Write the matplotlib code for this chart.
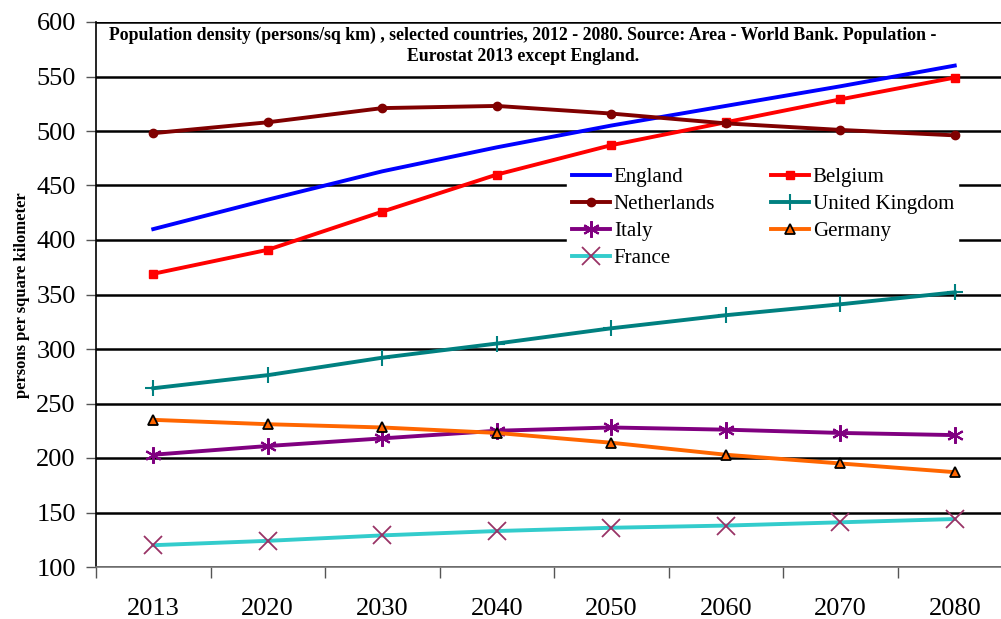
import numpy as np
import matplotlib
matplotlib.use("Agg")
import matplotlib.pyplot as plt
from matplotlib.ticker import FixedLocator, NullFormatter

years = ["2013", "2020", "2030", "2040", "2050", "2060", "2070", "2080"]
england = [410, 437, 463, 485, 505, 523, 541, 560]
belgium = [369, 391, 426, 460, 487, 508, 529, 549]
netherlands = [498, 508, 521, 523, 516, 507, 501, 496]
uk = [264, 276, 292, 305, 319, 331, 341, 352]
italy = [203, 211, 218, 225, 228, 226, 223, 221]
germany = [235, 231, 228, 223, 214, 203, 195, 187]
france = [120, 124, 129, 133, 136, 138, 141, 144]

title = ("Population density (persons/sq km) , selected countries, 2012 - 2080. Source: Area - World Bank. Population -\n"
         "Eurostat 2013 except England.")
ylabel = "persons per square kilometer"

plt.rcParams['font.family'] = ['Liberation Serif', 'DejaVu Serif']

fig = plt.figure(figsize=(10.01, 6.19), dpi=100)
ax = fig.add_axes([96/1001, 1-567/619, (1012-96)/1001, (567-22)/619])

x = np.arange(len(years))
lw = 2.8
h_eng, = ax.plot(x, england, color='#0000FF', lw=lw, label='England', zorder=3)
h_bel, = ax.plot(x, belgium, color='#FF0000', lw=lw, marker='s', ms=6, label='Belgium', zorder=3)
h_net, = ax.plot(x, netherlands, color='#800000', lw=lw, marker='o', ms=6, label='Netherlands', zorder=3)
h_uk, = ax.plot(x, uk, color='#008080', lw=lw, marker='+', ms=12, mew=1.5, label='United Kingdom', zorder=3)
h_ita, = ax.plot(x, italy, color='#800080', lw=lw, marker=(6, 2, 0), ms=12, mew=1.5, label='Italy', zorder=3)
h_ger, = ax.plot(x, germany, color='#FF6600', lw=lw, marker='^', ms=7, mec='black', mew=1.3, label='Germany', zorder=3)
h_fra, = ax.plot(x, france, color='#33CCCC', lw=lw, marker='x', ms=13, mec='#993366', mew=1.3, label='France', zorder=3)

ax.set_xlim(-0.5, 7.5)
ax.set_ylim(100, 600)
ax.set_yticks(np.arange(100, 601, 50))
ax.tick_params(axis='y', direction='out', length=7, width=1, color='#555555', labelsize=19, pad=7.5)
ax.yaxis.grid(True, color='black', lw=1.8, zorder=1)
ax.set_axisbelow(True)

ax.xaxis.set_major_locator(FixedLocator(np.arange(-0.5, 8, 1)))
ax.xaxis.set_major_formatter(NullFormatter())
ax.xaxis.set_minor_locator(FixedLocator(x))
ax.set_xticklabels(years, minor=True)
ax.tick_params(axis='x', which='major', direction='out', length=8, width=1, color='#555555')
ax.tick_params(axis='x', which='minor', length=0, labelsize=19, pad=22)

for s in ['top', 'right']:
    ax.spines[s].set_visible(False)
ax.spines['left'].set_color('black')
ax.spines['left'].set_linewidth(1.2)
ax.spines['bottom'].set_color('#777777')
ax.spines['bottom'].set_linewidth(1.2)

fig.text(22/1001, 1-295/619, ylabel, rotation=90, ha='center', va='center',
         fontsize=12, fontweight='bold')

fig.text(523/1001, 1-46/619, title, ha='center', va='center', fontsize=12.75,
         fontweight='bold', linespacing=1.35)

handles = [h_eng, h_net, h_ita, h_fra, h_bel, h_uk, h_ger]
leg = ax.legend(handles=handles, labels=[h.get_label() for h in handles], ncol=2,
                loc='upper left', bbox_to_anchor=(557/1001, 1-153/619), bbox_transform=fig.transFigure,
                frameon=True, fancybox=False, edgecolor='white', facecolor='white', framealpha=1,
                fontsize=15, handlelength=1.83, handletextpad=0.2, columnspacing=2.65,
                labelspacing=0.35, borderpad=0.2)
leg.set_zorder(5)

fig.savefig('out.png', dpi=100)
